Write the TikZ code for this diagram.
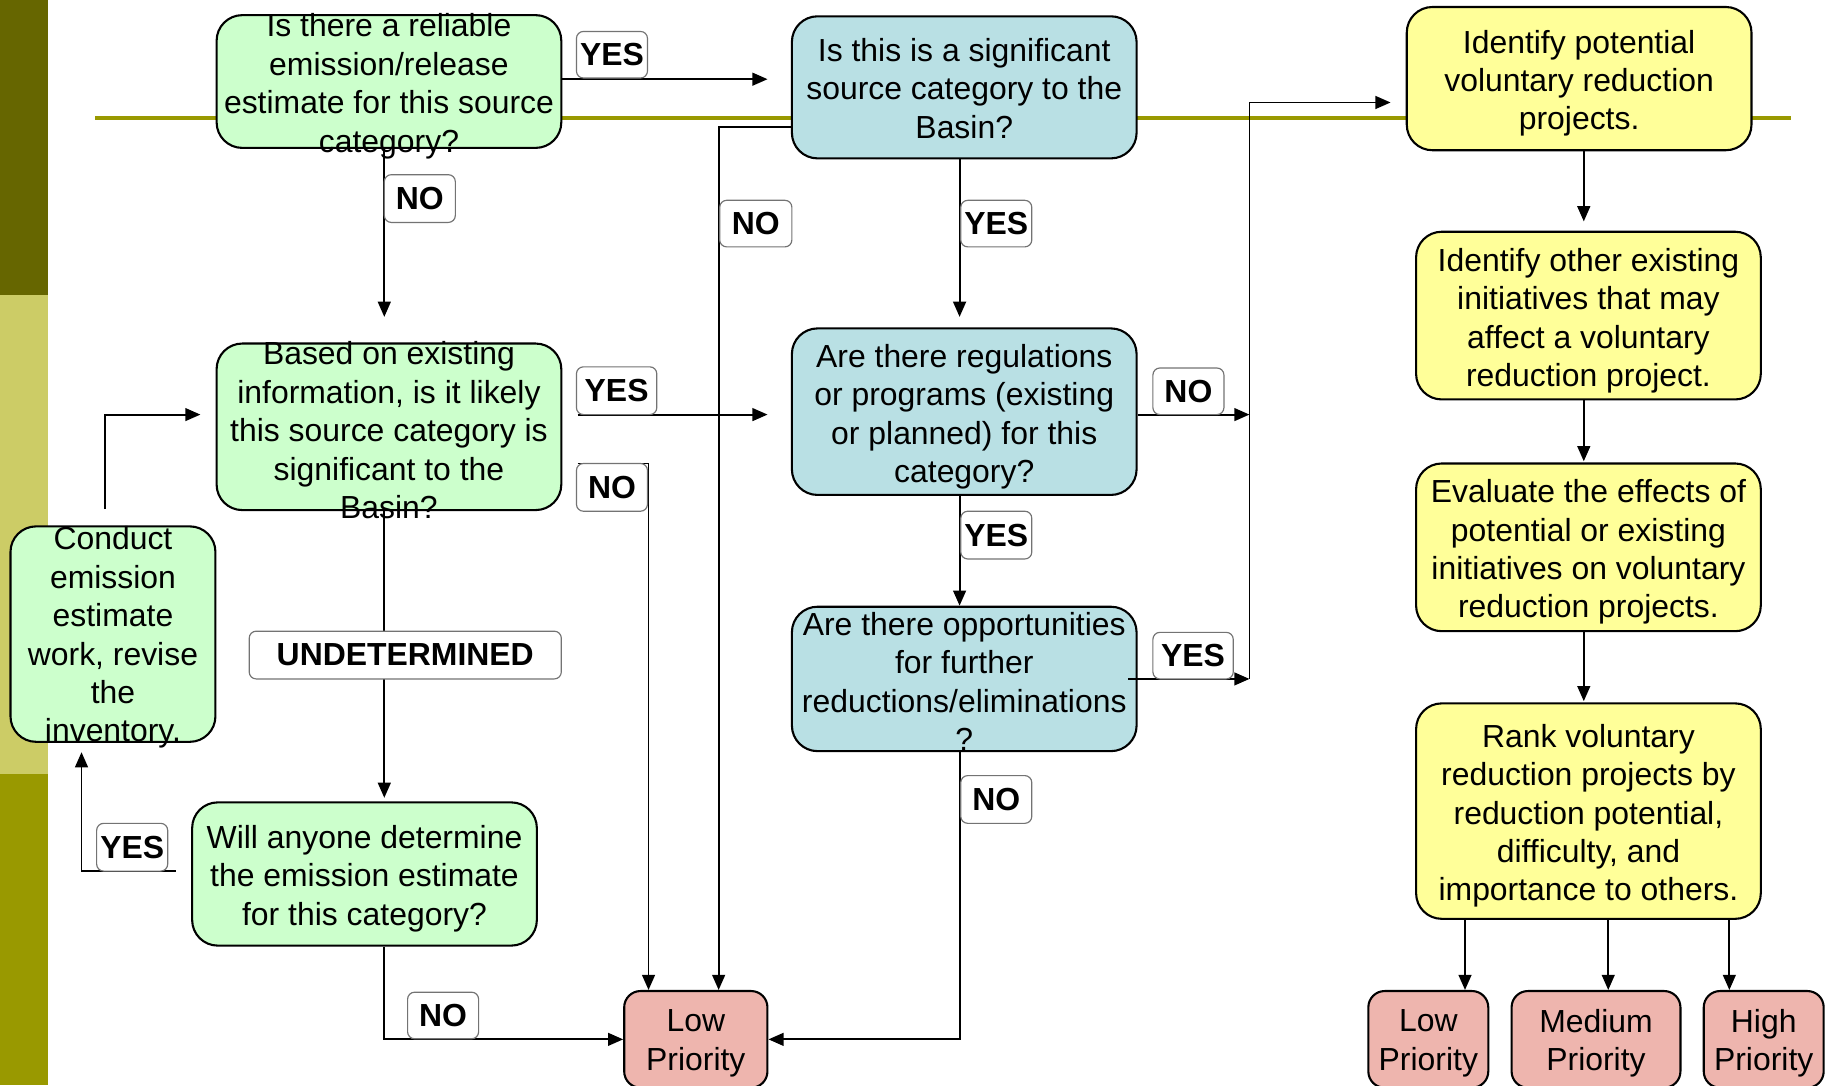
\documentclass[tikz,border=0pt]{standalone}
\usepackage{fontspec}
\setmainfont{Liberation Sans}
\usetikzlibrary{arrows.meta}
\definecolor{gfill}{HTML}{CCFFCC}
\definecolor{bfill}{HTML}{B9E0E4}
\definecolor{yfill}{HTML}{FFFF99}
\definecolor{rfill}{HTML}{EEB5AE}
\definecolor{oldark}{HTML}{666600}
\definecolor{ollight}{HTML}{CCCC66}
\definecolor{olmid}{HTML}{999900}
\tikzset{
  basebox/.style={draw=black, line width=1.8pt, rounded corners=22pt, inner sep=0pt},
  gbox/.style={basebox, fill=gfill},
  bbox/.style={basebox, fill=bfill},
  ybox/.style={basebox, fill=yfill},
  rbox/.style={basebox, fill=rfill, rounded corners=14pt},
  txt/.style={align=center, font=\fontsize{27.4pt}{33pt}\selectfont, inner sep=0pt, yshift=-2.5pt},
  lab/.style={draw=black!55, fill=white, rounded corners=6pt, line width=1pt, inner sep=0pt,
              font=\fontsize{27.4pt}{33pt}\selectfont\bfseries},
  conn/.style={line width=1.6pt, -{Triangle[length=13pt,width=11pt]}},
}
\begin{document}
\begin{tikzpicture}[x=1pt,y=-1pt]
\useasboundingbox (0,0) rectangle (1568,932);
% left band
\fill[oldark] (0,0) rectangle (41,253);
\fill[ollight] (0,253) rectangle (41,665);
\fill[olmid] (0,665) rectangle (41,932);
% olive rule
\draw[olmid, line width=3.5pt] (82,101) -- (1538,101);

% boxes
\node[gbox, minimum width=296pt, minimum height=114pt] (A) at (334,70) {};
\node[txt] (At) at (334,71.5) {Is there a reliable\\emission/release\\estimate for this source\\category?};
\node[bbox, minimum width=296pt, minimum height=122pt] (B) at (828,75) {};
\node[txt] (Bt) at (828,73.5) {Is this is a significant\\source category to the\\Basin?};
\node[ybox, minimum width=296pt, minimum height=123pt] (C) at (1356,67.5) {};
\node[txt] (Ct) at (1356,69) {Identify potential\\voluntary reduction\\projects.};
\node[gbox, minimum width=296pt, minimum height=143pt] (D) at (334,366.5) {};
\node[txt] (Dt) at (334,367) {Based on existing\\information, is it likely\\this source category is\\significant to the\\Basin?};
\node[bbox, minimum width=296pt, minimum height=143pt] (E) at (828,353.5) {};
\node[txt] (Et) at (828,355.5) {Are there regulations\\or programs (existing\\or planned) for this\\category?};
\node[ybox, minimum width=296pt, minimum height=144pt] (F) at (1364,271) {};
\node[txt] (Ft) at (1364,273) {Identify other existing\\initiatives that may\\affect a voluntary\\reduction project.};
\node[gbox, minimum width=176pt, minimum height=185pt] (G) at (97,544.5) {};
\node[txt] (Gt) at (97,545) {Conduct\\emission\\estimate\\work, revise\\the\\inventory.};
\node[bbox, minimum width=296pt, minimum height=124pt] (H) at (828,583) {};
\node[txt] (Ht) at (828,582.5) {Are there opportunities\\for further\\reductions/eliminations\\?};
\node[ybox, minimum width=296pt, minimum height=144pt] (I) at (1364,470) {};
\node[txt] (It) at (1364,471.5) {Evaluate the effects of\\potential or existing\\initiatives on voluntary\\reduction projects.};
\node[gbox, minimum width=296pt, minimum height=123pt] (J) at (313,750.5) {};
\node[txt] (Jt) at (313,752) {Will anyone determine\\the emission estimate\\for this category?};
\node[ybox, minimum width=296pt, minimum height=185pt] (K) at (1364,696.5) {};
\node[txt] (Kt) at (1364,698) {Rank voluntary\\reduction projects by\\reduction potential,\\difficulty, and\\importance to others.};
\node[rbox, minimum width=123pt, minimum height=83pt] (L1) at (597.5,892.5) {};
\node[txt] (L1t) at (597.5,893.5) {Low\\Priority};
\node[rbox, minimum width=103pt, minimum height=83pt] (L2) at (1226.5,892.5) {};
\node[txt] (L2t) at (1226.5,893.5) {Low\\Priority};
\node[rbox, minimum width=145pt, minimum height=83pt] (M) at (1370.5,892.5) {};
\node[txt] (Mt) at (1370.5,893.5) {Medium\\Priority};
\node[rbox, minimum width=103pt, minimum height=83pt] (Hi) at (1514.5,892.5) {};
\node[txt] (Hit) at (1514.5,893.5) {High\\Priority};

% connectors
\draw[conn, shorten >=20pt] ([yshift=2pt]A.east) coordinate (p1) -- (p1 -| B.west);
\draw[conn, shorten >=22pt] ([xshift=-4pt]A.south) -- ([xshift=-4pt]D.north);
\draw[conn, shorten >=20pt] ([xshift=13pt,yshift=10.5pt]D.east) coordinate (p3) -- (p3 -| E.west);
\draw[conn] ([xshift=13pt,yshift=-31.5pt]D.east) -- ++(61,0) coordinate (q4) -- (q4 |- L1.north);
\draw[conn] ([yshift=-34pt]B.west) -- ++(-62,0) coordinate (q5) -- (q5 |- L1.north);
\draw[conn, shorten >=9pt] ([xshift=-4pt]B.south) -- ([xshift=-4pt]E.north);
\draw[conn] ([yshift=-2.5pt]E.east) -- ++(96,0) coordinate (j1);
\draw[conn] ([xshift=-4pt]E.south) -- ([xshift=-4pt]H.north);
\draw[conn] ([xshift=-8pt]H.east) -- ++(104,0) coordinate (j2);
\coordinate (c88) at ([yshift=-20.5pt]C.west);
\draw[conn, shorten >=13pt] (j2) |- (c88);
\draw[conn] ([xshift=-4pt]H.south) |- (L1.east);
\draw[conn, shorten >=3pt] ([xshift=-4pt]D.south) -- ([xshift=17pt]J.north);
\draw[conn, shorten >=8pt] ([xshift=-13pt,yshift=2.5pt]J.west) -| ([xshift=-27pt]G.south);
\draw[conn, shorten >=13pt] ([xshift=-7pt,yshift=14pt]G.north) |- ([yshift=10.5pt]D.west);
\draw[conn] ([xshift=17pt]J.south) |- (L1.west);
\draw[conn, shorten >=8pt] ([xshift=4pt]C.south) -- ([xshift=-4pt]F.north);
\draw[conn, shorten >=1pt] ([xshift=-4pt]F.south) -- ([xshift=-4pt]I.north);
\draw[conn, shorten >=1pt] ([xshift=-4pt]I.south) -- ([xshift=-4pt]K.north);
\draw[conn] ([xshift=-106pt]K.south) coordinate (k1) -- (k1 |- L2.north);
\draw[conn] ([xshift=17pt]K.south) coordinate (k2) -- (k2 |- M.north);
\draw[conn] ([xshift=121pt]K.south) coordinate (k3) -- (k3 |- Hi.north);

% labels
\node[lab, minimum width=61pt, minimum height=40pt] (yes1) at (525.5,47) {YES};
\node[lab, minimum width=61pt, minimum height=41pt] (no1) at (360.5,170.5) {NO};
\node[lab, minimum width=62pt, minimum height=40pt] (no2) at (649,192) {NO};
\node[lab, minimum width=61pt, minimum height=40pt] (yes2) at (855.5,192) {YES};
\node[lab, minimum width=69pt, minimum height=41pt] (yes3) at (529.5,335.5) {YES};
\node[lab, minimum width=61pt, minimum height=41pt] (no3) at (525.5,418.5) {NO};
\node[lab, minimum width=61pt, minimum height=40pt] (no4) at (1020.5,336) {NO};
\node[lab, minimum width=61pt, minimum height=41pt] (yes4) at (855.5,459.5) {YES};
\node[lab, minimum width=69pt, minimum height=40pt] (yes5) at (1024.5,563) {YES};
\node[lab, minimum width=268pt, minimum height=41pt] (und) at (348,562.5) {UNDETERMINED};
\node[lab, minimum width=61pt, minimum height=41pt] (no5) at (855.5,686.5) {NO};
\node[lab, minimum width=61pt, minimum height=41pt] (yes6) at (113.5,727.5) {YES};
\node[lab, minimum width=61pt, minimum height=40pt] (no6) at (380.5,872) {NO};
\end{tikzpicture}
\end{document}
